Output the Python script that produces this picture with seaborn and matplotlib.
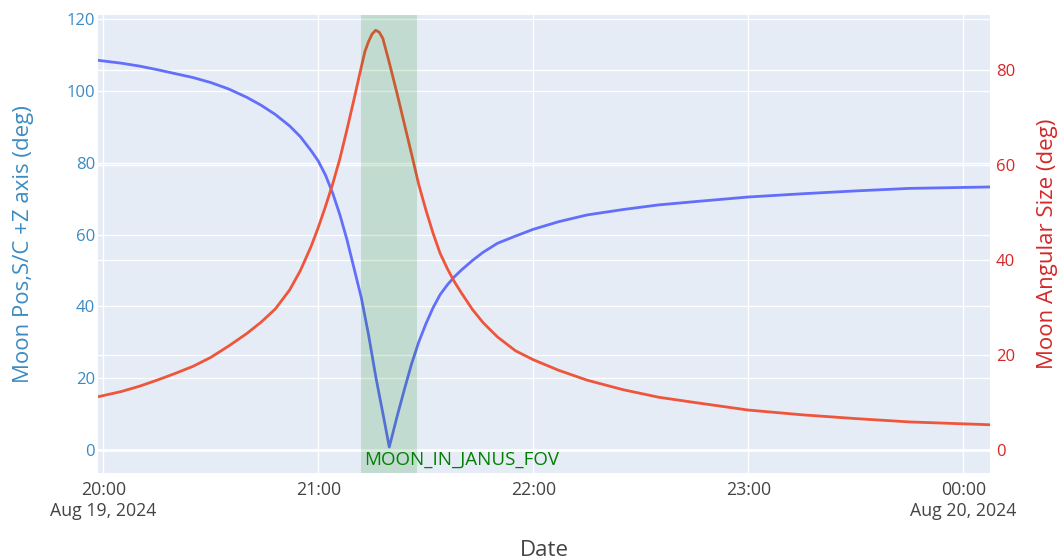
import pandas as pd
import matplotlib.pyplot as plt
import matplotlib.dates as mdates
import matplotlib.transforms as mtransforms
from matplotlib.ticker import FuncFormatter, MultipleLocator
import seaborn as sns

# minutes after 2024-08-19 20:00
minutes = [-1.5, 5, 10, 15, 20, 25, 30, 35, 40, 44, 48, 52, 55, 58, 60, 62, 64, 66, 68, 70,
           72, 73, 74, 75, 76, 77, 78, 79.8, 82, 84, 86, 88, 90, 92, 94, 96, 98, 100, 103, 106,
           110, 115, 120, 127, 135, 145, 155, 165, 180, 195, 210, 225, 247.5]
# angle between moon position and S/C +Z axis (deg)
moon_pos = [108.6, 107.8, 107.0, 106.0, 104.9, 103.8, 102.4, 100.6, 98.3, 96.1, 93.5, 90.3,
            87.3, 83.4, 80.5, 76.6, 71.6, 65.6, 58.6, 50.5, 42.4, 37.3, 32.2, 26.4, 20.6, 15.4,
            10.3, 0.8, 9.4, 16.8, 23.9, 30.0, 35.1, 39.6, 43.3, 46.0, 48.3, 50.2, 52.8, 55.1,
            57.6, 59.6, 61.5, 63.6, 65.5, 67.0, 68.3, 69.2, 70.5, 71.4, 72.2, 72.9, 73.3]
# moon angular size (deg)
moon_size = [11.2, 12.3, 13.4, 14.7, 16.1, 17.6, 19.5, 21.9, 24.5, 26.9, 29.7, 33.7, 37.8,
             42.9, 46.9, 51.3, 56.0, 61.3, 67.5, 74.0, 80.7, 83.9, 86.0, 87.6, 88.4, 88.0,
             86.7, 81.6, 75.0, 68.7, 62.4, 56.0, 50.6, 45.7, 41.4, 38.2, 35.4, 33.0, 29.6, 26.8,
             23.8, 20.9, 19.0, 16.8, 14.7, 12.7, 11.1, 10.0, 8.4, 7.4, 6.6, 5.9, 5.3]
fov_window = ['2024-08-19 21:12:00', '2024-08-19 21:27:30']
fov_label = 'MOON_IN_JANUS_FOV'

start = pd.Timestamp('2024-08-19 20:00')
df = pd.DataFrame({
    'Date': start + pd.to_timedelta(minutes, unit='min'),
    'pos': moon_pos,
    'size': moon_size,
})

sns.set_style('darkgrid', {'axes.facecolor': '#E5ECF6', 'grid.color': 'white'})
plt.rcParams['font.family'] = ['Open Sans', 'DejaVu Sans']

blue_txt = '#3b8bc2'
red_txt = '#d62728'

fig, ax = plt.subplots(figsize=(10.59, 5.59), dpi=100)
fig.subplots_adjust(left=0.0925, right=0.935, top=0.973, bottom=0.154)
ax2 = ax.twinx()

sns.lineplot(data=df, x='Date', y='pos', ax=ax, color='#636EFA', linewidth=2, zorder=3)
sns.lineplot(data=df, x='Date', y='size', ax=ax2, color='#EF553B', linewidth=2, zorder=3)

ax.set_xlim(df['Date'].iloc[0], df['Date'].iloc[-1])
ax.set_ylim(-6.4, 121.2)
ax2.set_ylim(-4.84, 91.6)
ax.yaxis.set_major_locator(MultipleLocator(20))
ax2.yaxis.set_major_locator(MultipleLocator(20))

# grid: left axis + x on ax, right-axis lines drawn on ax so they stay under the traces
ax.grid(True, color='white', linewidth=1)
ax.axhline(0, color='white', linewidth=2, zorder=1)
ax2.grid(False)
tr = mtransforms.blended_transform_factory(ax.transAxes, ax2.transData)
for v in ax2.get_yticks():
    if -4.84 < v < 91.6:
        ax.plot([0, 1], [v, v], transform=tr, color='white', linewidth=1, zorder=0.5)

# FOV band
t0, t1 = pd.to_datetime(fov_window)
ax2.axvspan(t0, t1, color='green', alpha=0.15, linewidth=0, zorder=5)
ax2.annotate(fov_label, xy=(mdates.date2num(t0), 0),
             xycoords=mtransforms.blended_transform_factory(ax2.transData, ax2.transAxes),
             xytext=(2, 3), textcoords='offset points', color='green', fontsize=13.5,
             ha='left', va='bottom', zorder=6)

# x axis
ax.xaxis.set_major_locator(mdates.HourLocator())
def fmt(x, pos):
    d = mdates.num2date(x)
    if d.hour in (20, 0):
        return d.strftime('%H:%M\n%b %d, %Y')
    return d.strftime('%H:%M')
ax.xaxis.set_major_formatter(FuncFormatter(fmt))

ax.tick_params(axis='x', length=0, pad=6, labelsize=12.8, colors='#444444')
ax.tick_params(axis='y', length=0, pad=2, labelsize=12, colors=blue_txt)
ax2.tick_params(axis='y', length=0, pad=4, labelsize=12, colors=red_txt)

ax.set_xlabel('Date', fontsize=16, color='#444444')
ax.set_ylabel('Moon Pos,S/C +Z axis (deg)', fontsize=16, color=blue_txt)
ax2.set_ylabel('Moon Angular Size (deg)', fontsize=16, color=red_txt)
ax.xaxis.set_label_coords(0.5, -0.146)
ax.yaxis.set_label_coords(-0.072, 0.5)
ax2.yaxis.set_label_coords(1.053, 0.5)

for a in (ax, ax2):
    for s in a.spines.values():
        s.set_visible(False)

plt.savefig('out.png', dpi=100)
